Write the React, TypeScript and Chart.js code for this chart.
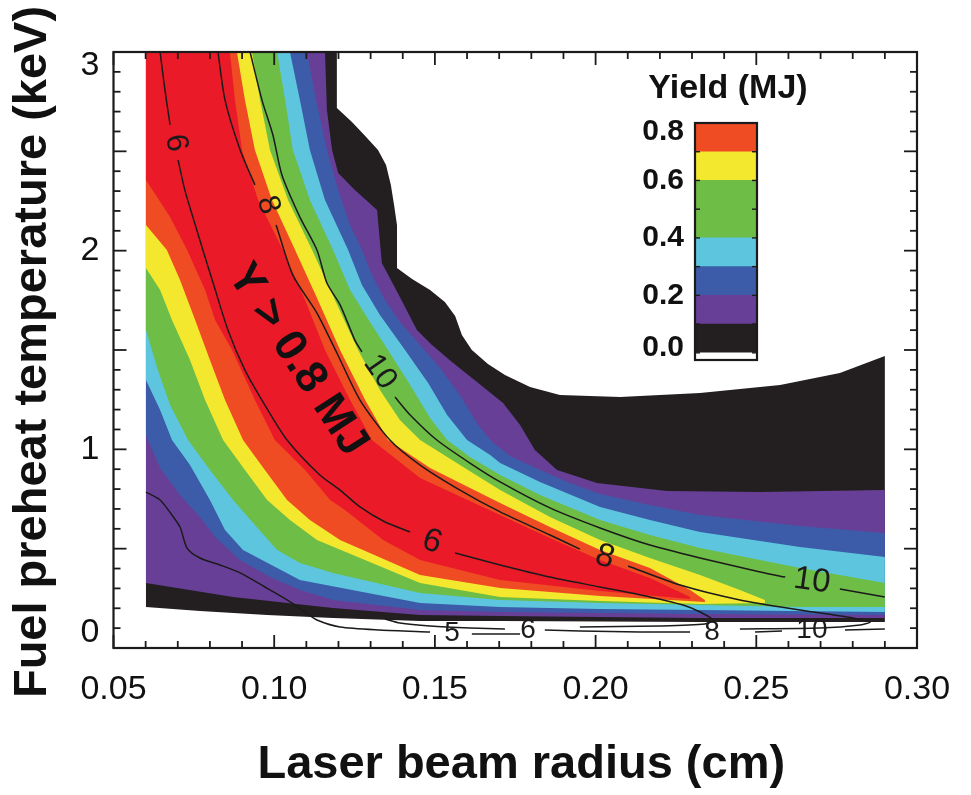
import React, { useEffect, useRef } from 'react';
import { Chart, registerables } from 'chart.js';

Chart.register(...registerables);

type Pt = [number, number];

const FONT = "'Liberation Sans', Arial, Helvetica, sans-serif";
const INK = '#1c1a1b';

// Axes
const X_MIN = 0.05;
const X_MAX = 0.3;
const Y_MIN = 0;
const Y_MAX = 3;
const X_TICK_LABELS = ['0.05', '0.10', '0.15', '0.20', '0.25', '0.30'];
const Y_TICK_LABELS = ['0', '1', '2', '3'];
const X_TITLE = 'Laser beam radius (cm)';
const Y_TITLE = 'Fuel preheat temperature (keV)';

// Yield colour scale (MJ)
const YIELD_LEVELS = [0, 0.1, 0.2, 0.3, 0.4, 0.5, 0.6, 0.7, 0.8];
const LEVEL_COLORS = ['#231f20', '#683f97', '#3c5ca9', '#5dc6de', '#6dbd46', '#6dbd46', '#f3e82e', '#ef4c24'];
const ABOVE_TOP_COLOR = '#ea1a29';
const COLORBAR_FLOOR = -0.025;
const COLORBAR_TICK_LABELS = ['0.0', '0.2', '0.4', '0.6', '0.8'];
const COLORBAR_TITLE = 'Yield (MJ)';

// Regions of the (radius, temperature) plane where the yield exceeds a level
const yieldOver00: Pt[] = [
  [0.0601, 3.0], [0.1195, 3.0], [0.1195, 2.718], [0.1242, 2.648], [0.1286, 2.572], [0.1323, 2.507],
  [0.1348, 2.431], [0.1363, 2.331], [0.1373, 2.23], [0.1382, 2.129], [0.1382, 1.913], [0.1429, 1.857],
  [0.1485, 1.802], [0.1531, 1.742], [0.1563, 1.671], [0.1584, 1.575], [0.1615, 1.5], [0.1665, 1.43],
  [0.1718, 1.374], [0.1796, 1.314], [0.1889, 1.273], [0.2076, 1.263], [0.2325, 1.284], [0.2574, 1.324],
  [0.276, 1.384], [0.29, 1.47], [0.29, 0.131], [0.2325, 0.131], [0.1703, 0.136], [0.1454, 0.136],
  [0.1183, 0.151], [0.0978, 0.166], [0.0769, 0.186], [0.0601, 0.206],
];

const yieldOver01: Pt[] = [
  [0.0601, 3.0], [0.1158, 3.0], [0.1164, 2.708], [0.118, 2.507], [0.1199, 2.391], [0.1251, 2.305],
  [0.132, 2.205], [0.1335, 1.938], [0.1391, 1.767], [0.1444, 1.601], [0.1491, 1.525], [0.1553, 1.44],
  [0.1631, 1.339], [0.1712, 1.233], [0.1765, 1.122], [0.1811, 0.997], [0.188, 0.896], [0.2004, 0.831],
  [0.2222, 0.79], [0.2512, 0.785], [0.29, 0.795], [0.29, 0.151], [0.2325, 0.151], [0.2014, 0.156],
  [0.1703, 0.161], [0.1454, 0.166], [0.1183, 0.201], [0.0872, 0.257], [0.0601, 0.327],
];

const yieldOver02: Pt[] = [
  [0.0601, 3.0], [0.1102, 3.0], [0.113, 2.758], [0.1164, 2.507], [0.1199, 2.305], [0.1236, 2.129],
  [0.1273, 2.003], [0.1304, 1.877], [0.1345, 1.752], [0.1391, 1.641], [0.1454, 1.525], [0.1516, 1.409],
  [0.1578, 1.273], [0.1634, 1.122], [0.1678, 1.037], [0.1734, 0.966], [0.1827, 0.896], [0.192, 0.831],
  [0.2014, 0.775], [0.2169, 0.72], [0.2325, 0.669], [0.2636, 0.614], [0.29, 0.579],
  [0.29, 0.166], [0.2325, 0.171], [0.2014, 0.176], [0.1703, 0.181], [0.1454, 0.191], [0.1183, 0.242],
  [0.108, 0.292], [0.0987, 0.357], [0.0894, 0.443], [0.0816, 0.559], [0.0769, 0.659], [0.0707, 0.77],
  [0.0645, 0.906], [0.0601, 1.072],
];

const yieldOver03: Pt[] = [
  [0.0601, 3.0], [0.1049, 3.0], [0.108, 2.758], [0.1111, 2.507], [0.1158, 2.255], [0.123, 2.003],
  [0.1273, 1.827], [0.1329, 1.676], [0.1407, 1.5], [0.1479, 1.334], [0.1538, 1.173], [0.16, 1.047],
  [0.1672, 0.971], [0.1703, 0.931], [0.1827, 0.836], [0.2014, 0.71], [0.2169, 0.644], [0.2325, 0.584],
  [0.2636, 0.508], [0.29, 0.458],
  [0.29, 0.181], [0.2325, 0.191], [0.2014, 0.196], [0.1703, 0.206], [0.1454, 0.227], [0.108, 0.342],
  [0.0903, 0.493], [0.0847, 0.594], [0.08, 0.745], [0.0738, 0.921], [0.0682, 1.047], [0.0645, 1.198],
  [0.0601, 1.349],
];

const yieldOver04: Pt[] = [
  [0.0601, 3.0], [0.1009, 3.0], [0.1034, 2.758], [0.1058, 2.507], [0.1111, 2.255], [0.1183, 2.003],
  [0.1236, 1.802], [0.1298, 1.641], [0.1354, 1.5], [0.1423, 1.324], [0.1485, 1.158], [0.1538, 1.047],
  [0.1609, 0.961], [0.1703, 0.871], [0.1827, 0.77], [0.2014, 0.644], [0.2169, 0.569], [0.2325, 0.503],
  [0.2636, 0.403], [0.29, 0.327],
  [0.29, 0.206], [0.2636, 0.206], [0.2325, 0.216], [0.2014, 0.227], [0.1703, 0.242], [0.1454, 0.277],
  [0.1183, 0.378], [0.108, 0.428], [0.1009, 0.493], [0.094, 0.619], [0.0872, 0.745], [0.08, 0.896],
  [0.0732, 1.047], [0.0676, 1.223], [0.0638, 1.399], [0.0601, 1.601],
];

const yieldOver06: Pt[] = [
  [0.0601, 3.0], [0.0931, 3.0], [0.0956, 2.758], [0.0987, 2.507], [0.1043, 2.255], [0.1118, 2.003],
  [0.1189, 1.752], [0.1261, 1.5], [0.1329, 1.299], [0.1391, 1.148], [0.1454, 1.047], [0.1578, 0.921],
  [0.1703, 0.795], [0.1858, 0.659], [0.2014, 0.544], [0.2169, 0.453], [0.2325, 0.367], [0.2449, 0.292],
  [0.2527, 0.242],
  [0.2527, 0.227], [0.2325, 0.221], [0.2014, 0.237], [0.1703, 0.257], [0.1454, 0.327], [0.1133, 0.544],
  [0.1049, 0.644], [0.0978, 0.745], [0.0909, 0.896], [0.0841, 1.047], [0.0785, 1.248], [0.0738, 1.45],
  [0.0682, 1.651], [0.0645, 1.802], [0.0601, 1.913],
];

const yieldOver07: Pt[] = [
  [0.0601, 3.0], [0.0884, 3.0], [0.0909, 2.758], [0.094, 2.507], [0.0993, 2.255], [0.1065, 2.003],
  [0.1136, 1.752], [0.1205, 1.5], [0.1283, 1.248], [0.1354, 1.047], [0.1485, 0.906], [0.1703, 0.73],
  [0.1858, 0.609], [0.2014, 0.493], [0.2169, 0.403], [0.2294, 0.292], [0.234, 0.242],
  [0.234, 0.232], [0.2014, 0.262], [0.1703, 0.302], [0.1454, 0.367], [0.1205, 0.544], [0.1111, 0.644],
  [0.104, 0.745], [0.0971, 0.896], [0.0903, 1.047], [0.0847, 1.248], [0.08, 1.45], [0.0754, 1.651],
  [0.0707, 1.852], [0.0666, 2.003], [0.0601, 2.129],
];

const yieldOver08: Pt[] = [
  [0.0601, 3.0], [0.0862, 3.0], [0.0878, 2.758], [0.09, 2.507], [0.095, 2.255], [0.1027, 2.003],
  [0.1096, 1.752], [0.1158, 1.5], [0.1236, 1.248], [0.1304, 1.047], [0.1454, 0.856], [0.1703, 0.669],
  [0.1858, 0.554], [0.2014, 0.443], [0.2169, 0.352], [0.2294, 0.257],
  [0.2294, 0.247], [0.2014, 0.287], [0.1703, 0.342], [0.1454, 0.443], [0.1339, 0.544], [0.122, 0.695],
  [0.1174, 0.745], [0.1096, 0.896], [0.1002, 1.047], [0.094, 1.248], [0.0869, 1.5], [0.0816, 1.651],
  [0.0785, 1.802], [0.0729, 2.003], [0.0676, 2.169], [0.0601, 2.356],
];

// Contour lines (null marks a break left for the inline label)
const contour5: (Pt | null)[] = [
  [0.0601, 0.785], [0.0645, 0.745], [0.0682, 0.669], [0.0707, 0.609], [0.0729, 0.503], [0.0769, 0.453],
  [0.0831, 0.418], [0.0894, 0.378], [0.0971, 0.307], [0.104, 0.242], [0.1096, 0.181], [0.1133, 0.141],
  [0.1205, 0.106], [0.1329, 0.091], [0.1485, 0.081], null, [0.1615, 0.07], [0.1765, 0.07],
];

const contour6: (Pt | null)[] = [
  [0.0645, 3.0], [0.066, 2.809], [0.0676, 2.633], null,
  [0.0701, 2.456], [0.0722, 2.305], [0.0747, 2.169], [0.0778, 2.003], [0.081, 1.837], [0.0856, 1.601],
  [0.0909, 1.399], [0.0971, 1.223], [0.104, 1.047], [0.1142, 0.871], [0.1205, 0.795], [0.1267, 0.71],
  [0.1345, 0.634], [0.1423, 0.584], null,
  [0.1563, 0.478], [0.1703, 0.418], [0.1858, 0.357], [0.2014, 0.307], [0.2169, 0.257], [0.2272, 0.216],
  [0.2325, 0.181], [0.2365, 0.141], [0.234, 0.121], [0.22, 0.111], [0.1951, 0.106], null,
  [0.1718, 0.096], [0.1609, 0.101], [0.1485, 0.111], [0.1391, 0.126], [0.1345, 0.146],
];

const contour8: (Pt | null)[] = [
  [0.0825, 3.0], [0.0847, 2.758], [0.0894, 2.507], [0.094, 2.331], null,
  [0.1006, 2.129], [0.1058, 1.877], [0.1133, 1.686], [0.1195, 1.485], [0.1267, 1.248], [0.136, 1.047],
  [0.1454, 0.921], [0.1578, 0.795], [0.1703, 0.685], [0.1858, 0.569], [0.1951, 0.498], null,
  [0.2101, 0.413], [0.2263, 0.317], [0.2449, 0.242], [0.2636, 0.191], [0.2782, 0.156], [0.2854, 0.131],
  [0.2823, 0.116], [0.2698, 0.101], [0.2449, 0.096], null,
  [0.2294, 0.081], [0.2138, 0.081], [0.1951, 0.086], [0.1842, 0.091],
];

const contour10: (Pt | null)[] = [
  [0.0925, 3.0], [0.0962, 2.758], [0.0996, 2.582], [0.1024, 2.381], [0.108, 2.169], [0.1133, 2.003],
  [0.1164, 1.837], [0.1205, 1.727], [0.1251, 1.55], [0.1273, 1.49], null,
  [0.1376, 1.263], [0.1423, 1.173], [0.1506, 1.047], [0.1609, 0.931], [0.1703, 0.836], [0.1858, 0.705],
  [0.2014, 0.604], [0.2169, 0.518], [0.2325, 0.453], [0.2512, 0.383], [0.259, 0.357], null,
  [0.276, 0.297], [0.29, 0.257],
];

const contour10Low: (Pt | null)[] = [
  [0.29, 0.096], [0.2776, 0.091], null, [0.258, 0.086], [0.2496, 0.081],
];

const CONTOUR_LABELS = [
  { text: '6', x: 0.0694, y: 2.542, angle: 80, size: 31 },
  { text: '8', x: 0.0981, y: 2.23, angle: 72, size: 31 },
  { text: '10', x: 0.1329, y: 1.389, angle: 55, size: 31 },
  { text: '6', x: 0.1491, y: 0.534, angle: 20, size: 33 },
  { text: '8', x: 0.2029, y: 0.458, angle: 16, size: 33 },
  { text: '10', x: 0.2673, y: 0.337, angle: 8, size: 33 },
  { text: '5', x: 0.1553, y: 0.076, angle: 0, size: 28 },
  { text: '6', x: 0.179, y: 0.091, angle: 0, size: 28 },
  { text: '8', x: 0.2362, y: 0.081, angle: 0, size: 28 },
  { text: '10', x: 0.2673, y: 0.091, angle: 0, size: 28 },
];

const REGION_NOTE = { text: 'Y > 0.8 MJ', x: 0.1072, y: 1.45, angle: 57 };

const regionSets: { pts: Pt[]; color: string }[] = [
  { pts: yieldOver00, color: LEVEL_COLORS[0] },
  { pts: yieldOver01, color: LEVEL_COLORS[1] },
  { pts: yieldOver02, color: LEVEL_COLORS[2] },
  { pts: yieldOver03, color: LEVEL_COLORS[3] },
  { pts: yieldOver04, color: LEVEL_COLORS[4] },
  { pts: yieldOver06, color: LEVEL_COLORS[6] },
  { pts: yieldOver07, color: LEVEL_COLORS[7] },
  { pts: yieldOver08, color: ABOVE_TOP_COLOR },
];

function splitRuns(pts: (Pt | null)[]): Pt[][] {
  const runs: Pt[][] = [];
  let cur: Pt[] = [];
  for (const p of pts) {
    if (p) cur.push(p);
    else {
      if (cur.length > 1) runs.push(cur);
      cur = [];
    }
  }
  if (cur.length > 1) runs.push(cur);
  return runs;
}

function buildDatasets() {
  const sets: any[] = [];
  regionSets.forEach((r, i) => {
    sets.push({
      data: r.pts.map(([x, y]) => ({ x, y })),
      showLine: true,
      fill: 'shape',
      backgroundColor: r.color,
      borderColor: 'rgba(0,0,0,0)',
      borderWidth: 0,
      pointRadius: 0,
      pointHoverRadius: 0,
      tension: 0,
      order: 50 - i,
    });
  });
  [contour5, contour6, contour8, contour10, contour10Low].forEach((c) => {
    splitRuns(c).forEach((run) => {
      sets.push({
        data: run.map(([x, y]) => ({ x, y })),
        showLine: true,
        fill: false,
        borderColor: INK,
        borderWidth: 1.5,
        pointRadius: 0,
        pointHoverRadius: 0,
        tension: 0.25,
        order: 0,
      });
    });
  });
  return sets;
}

function seg(ctx: CanvasRenderingContext2D, x1: number, y1: number, x2: number, y2: number) {
  ctx.beginPath();
  ctx.moveTo(x1, y1);
  ctx.lineTo(x2, y2);
  ctx.stroke();
}

const axesPlugin = {
  id: 'boxAxes',
  afterDraw(chart: any) {
    const { ctx, chartArea: a, scales } = chart;
    const xs = scales.x;
    const ys = scales.y;
    ctx.save();

    // contour labels and region note
    ctx.fillStyle = INK;
    ctx.textAlign = 'center';
    ctx.textBaseline = 'middle';
    for (const l of CONTOUR_LABELS) {
      ctx.save();
      ctx.translate(xs.getPixelForValue(l.x), ys.getPixelForValue(l.y));
      ctx.rotate((l.angle * Math.PI) / 180);
      ctx.font = `${l.size}px ${FONT}`;
      ctx.fillText(l.text, 0, 0);
      ctx.restore();
    }
    ctx.save();
    ctx.translate(xs.getPixelForValue(REGION_NOTE.x), ys.getPixelForValue(REGION_NOTE.y));
    ctx.rotate((REGION_NOTE.angle * Math.PI) / 180);
    ctx.font = `bold 45px ${FONT}`;
    ctx.fillStyle = '#111';
    ctx.fillText(REGION_NOTE.text, 0, 0);
    ctx.restore();

    // inward ticks on all four sides
    ctx.strokeStyle = INK;
    ctx.lineWidth = 1.8;
    for (let i = 0; i <= 25; i++) {
      const px = xs.getPixelForValue(X_MIN + i * 0.01);
      const len = i % 5 === 0 ? 13 : 7;
      seg(ctx, px, a.bottom, px, a.bottom - len);
      seg(ctx, px, a.top, px, a.top + len);
    }
    for (let i = 0; i <= 30; i++) {
      const py = ys.getPixelForValue(Y_MIN + i * 0.1);
      const len = i % 5 === 0 ? 13 : 7;
      seg(ctx, a.left, py, a.left + len, py);
      seg(ctx, a.right, py, a.right - len, py);
    }
    ctx.lineWidth = 2.2;
    ctx.strokeRect(a.left, a.top, a.right - a.left, a.bottom - a.top);

    // tick labels
    ctx.fillStyle = '#111';
    ctx.font = `34px ${FONT}`;
    ctx.textAlign = 'center';
    ctx.textBaseline = 'middle';
    for (const t of X_TICK_LABELS) {
      ctx.fillText(t, xs.getPixelForValue(parseFloat(t)), a.bottom + 42);
    }
    ctx.textAlign = 'right';
    for (const t of Y_TICK_LABELS) {
      const py = Math.min(Math.max(ys.getPixelForValue(parseFloat(t)), a.top + 14), a.bottom - 15);
      ctx.fillText(t, a.left - 14, py);
    }

    // axis titles
    ctx.font = `bold 47px ${FONT}`;
    ctx.textAlign = 'center';
    ctx.fillText(X_TITLE, (a.left + a.right) / 2 + 6, a.bottom + 117);
    ctx.save();
    ctx.translate(33, 352);
    ctx.rotate(-Math.PI / 2);
    ctx.fillText(Y_TITLE, 0, 0);
    ctx.restore();

    ctx.restore();
  },
};

const colorbarPlugin = {
  id: 'colorbarFrame',
  afterDraw(chart: any) {
    const { ctx, chartArea: a, scales } = chart;
    const ys = scales.y;
    ctx.save();
    ctx.strokeStyle = INK;
    ctx.lineWidth = 1.4;
    for (const v of YIELD_LEVELS) {
      const py = ys.getPixelForValue(v);
      seg(ctx, a.left, py, a.left + 5, py);
      seg(ctx, a.right, py, a.right - 5, py);
    }
    ctx.lineWidth = 2.2;
    ctx.strokeRect(a.left, a.top, a.right - a.left, a.bottom - a.top);

    ctx.fillStyle = '#111';
    ctx.font = `bold 30px ${FONT}`;
    ctx.textAlign = 'right';
    ctx.textBaseline = 'middle';
    for (const t of COLORBAR_TICK_LABELS) {
      const py = Math.min(Math.max(ys.getPixelForValue(parseFloat(t)), a.top + 9), a.bottom - 12);
      ctx.fillText(t, a.left - 11, py);
    }
    ctx.font = `bold 34px ${FONT}`;
    ctx.textAlign = 'center';
    ctx.fillText(COLORBAR_TITLE, (a.left + a.right) / 2 + 2, a.top - 34);
    ctx.restore();
  },
};

export default function App() {
  const mainRef = useRef<HTMLCanvasElement>(null);
  const barRef = useRef<HTMLCanvasElement>(null);

  useEffect(() => {
    const main = new Chart(mainRef.current as HTMLCanvasElement, {
      type: 'scatter',
      data: { datasets: buildDatasets() },
      options: {
        animation: false,
        responsive: false,
        events: [],
        layout: { padding: { left: 113.5, top: 52, right: 54, bottom: 147 } },
        scales: {
          x: { type: 'linear', min: X_MIN, max: X_MAX, display: false },
          y: { type: 'linear', min: Y_MIN, max: Y_MAX, display: false },
        },
        plugins: { legend: { display: false }, tooltip: { enabled: false } },
      } as any,
      plugins: [axesPlugin],
    });

    const bands = [COLORBAR_FLOOR, ...YIELD_LEVELS];
    const bandColors = ['#ffffff', ...LEVEL_COLORS];
    const bar = new Chart(barRef.current as HTMLCanvasElement, {
      type: 'bar',
      data: {
        labels: [''],
        datasets: bandColors.map((c, i) => ({
          data: [[bands[i], bands[i + 1]]],
          backgroundColor: c,
          borderWidth: 0,
          barPercentage: 1,
          categoryPercentage: 1,
          grouped: false,
        })) as any,
      },
      options: {
        animation: false,
        responsive: false,
        events: [],
        layout: { padding: { left: 95, top: 63, right: 73, bottom: 20 } },
        scales: {
          x: { display: false },
          y: { type: 'linear', min: COLORBAR_FLOOR, max: YIELD_LEVELS[YIELD_LEVELS.length - 1], display: false },
        },
        plugins: { legend: { display: false }, tooltip: { enabled: false } },
      } as any,
      plugins: [colorbarPlugin],
    });

    return () => {
      main.destroy();
      bar.destroy();
    };
  }, []);

  return (
    <div style={{ position: 'absolute', left: 0, top: 0, width: 971, height: 795, background: '#ffffff' }}>
      <canvas ref={mainRef} width={971} height={795} style={{ position: 'absolute', left: 0, top: 0 }} />
      <canvas ref={barRef} width={230} height={320} style={{ position: 'absolute', left: 600, top: 60 }} />
    </div>
  );
}
